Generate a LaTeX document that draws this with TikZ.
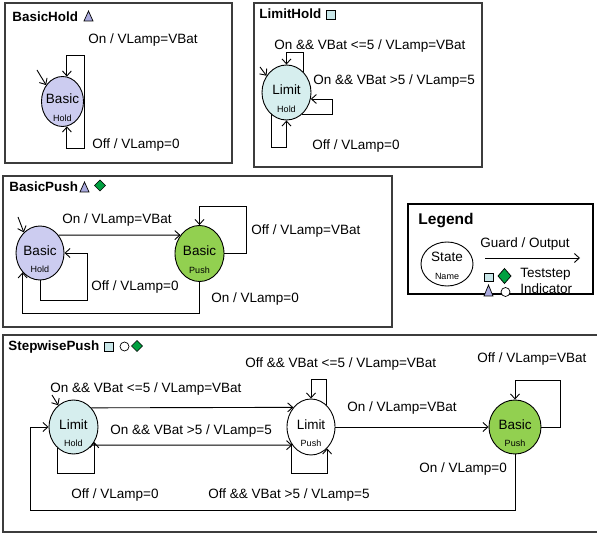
\documentclass[tikz,border=0pt]{standalone}
\usepackage{fontspec}
\setmainfont{Liberation Sans}
\usetikzlibrary{shapes.geometric,arrows.meta}

\definecolor{holdfill}{RGB}{204,204,240}
\definecolor{limitfill}{RGB}{214,238,238}
\definecolor{pushfill}{RGB}{146,208,80}
\definecolor{stepgreen}{RGB}{0,160,64}
\definecolor{trifill}{RGB}{170,170,222}
\definecolor{sqfill}{RGB}{200,230,232}
\definecolor{framegray}{RGB}{60,60,60}

\newcommand{\lab}{\fontsize{13.5}{16}\selectfont}
\newcommand{\subf}{\fontsize{9}{10}\selectfont}

\begin{document}
\begin{tikzpicture}[x=1pt, y=-1pt, line width=0.9pt,
	arr/.style={-{Straight Barb[length=5pt,width=9pt]}},
	frame/.style={draw=framegray, line width=1.2pt},
	state/.style 2 args={draw, ellipse, inner xsep=-10pt, inner ysep=0pt,
		minimum width=#1pt, minimum height=#2pt, font=\lab,
		text height=9.8pt, text depth=5.2pt},
	sub/.style={font=\subf, inner sep=0pt, yshift=-16.5pt},
	lbl/.style={anchor=base west, inner sep=0pt, font=\lab},
	title/.style={anchor=base west, inner sep=0pt, font=\bfseries\fontsize{13.4}{16}\selectfont},
	tri/.style={draw, fill=trifill, line width=0.7pt},
	sq/.style={draw, fill=sqfill, line width=0.7pt},
	dia/.style={draw, fill=stepgreen, line width=0.7pt},
	ind/.style={draw, fill=white, line width=0.7pt}]
	\path[use as bounding box, fill=white] (0,0) rectangle (597,534);

	% BasicHold
	\draw[frame] (5,3) rectangle (232,163);
	\node[title] (t1) at (12,22) {BasicHold};
	\filldraw[tri] (84,21) -- (88.5,11) -- (93,21) -- cycle;
	\node[state={42}{50}, fill=holdfill, label={[sub]center:Hold}] (bh) at (62.5,101.5) {Basic};
	\coordinate (bh0) at (37,70);
	\draw[arr] (bh0) -- (bh.135);
	\draw[arr] (bh.east) -- ++(0,-46) -| (bh.80);
	\draw[arr] (bh.east) -- ++(0,46.5) -| (bh.-80);
	\node[lbl] (bh1) at (88,44) {On / VLamp=VBat};
	\node[lbl] (bh2) at (92,149) {Off / VLamp=0};

	% LimitHold
	\draw[frame] (254,3) rectangle (482,167);
	\node[title] (t2) at (259,19) {LimitHold};
	\filldraw[sq] (326,10) rectangle (335,19);
	\node[state={49}{55}, fill=limitfill, label={[sub]center:Hold}] (lh) at (286.5,92.5) {Limit};
	\coordinate (lh0) at (260,67);
	\draw[arr] (lh0) -- (lh.140);
	\draw[arr] (lh.51) -- ++(0,-19) -| (lh.north);
	\draw[arr] (lh.-55) -- ++(31,0) |- (lh.-15);
	\draw[arr] (lh.235) -- ++(0,33) -| (lh.south);
	\node[lbl] (lh1) at (274,50) {On \&\& VBat <=5 / VLamp=VBat};
	\node[lbl] (lh2) at (313,85) {On \&\& VBat >5 / VLamp=5};
	\node[lbl] (lh3) at (312,150) {Off / VLamp=0};

	% BasicPush
	\draw[frame] (3,176) rectangle (392,327);
	\node[title] (t3) at (9,192) {BasicPush};
	\filldraw[tri] (80,192) -- (84.5,182) -- (89,192) -- cycle;
	\filldraw[dia] (94.5,185.5) -- (100,180) -- (105.5,185.5) -- (100,191) -- cycle;
	\node[state={48}{54}, fill=holdfill, label={[sub]center:Hold}] (bhp) at (40,253) {Basic};
	\node[state={49}{56}, fill=pushfill, label={[sub]center:Push}] (bp) at (199.5,253.5) {Basic};
	\coordinate (bhp0) at (18,217);
	\draw[arr] (bhp0) -- (bhp.128);
	\draw[arr] (bhp.44) -- (bp.136);
	\draw[arr] (bp.east) -- ++(22,0) -- ++(0,-47.5) -| (bp.north);
	\draw[arr] (bhp.south) -- ++(0,20) -- ++(47,0) |- (bhp.east);
	\draw[arr] (bp.south) -- ++(0,31.5) -| (bhp.228);
	\node[lbl] (bp1) at (62,224) {On / VLamp=VBat};
	\node[lbl] (bp2) at (251,235) {Off / VLamp=VBat};
	\node[lbl] (bp3) at (91,291) {Off / VLamp=0};
	\node[lbl] (bp4) at (211,303) {On / VLamp=0};

	% Legend
	\draw[line width=2.3pt] (408,204) rectangle (593,294);
	\node[anchor=base west, inner sep=0pt, font=\bfseries\fontsize{15.5}{18}\selectfont] (lg) at (418,224.5) {Legend};
	\node[state={52}{44}, text depth=14.2pt, label={[sub, yshift=4.5pt]center:Name}] (ls) at (447,264) {State};
	\coordinate (la0) at (485,258);
	\coordinate (la1) at (580,258);
	\draw[arr] (la0) -- (la1);
	\node[lbl] (lg1) at (480,248) {Guard / Output};
	\filldraw[sq] (484,273) rectangle (493,281);
	\filldraw[dia] (498,276) -- (504.5,268.5) -- (511,276) -- (504.5,283.5) -- cycle;
	\node[lbl] (lg2) at (520,278) {Teststep};
	\filldraw[tri] (484,296) -- (488.5,285) -- (493,296) -- cycle;
	\filldraw[ind] (505.5,292) circle [radius=4.5pt];
	\node[lbl] (lg3) at (520,294) {Indicator};

	% StepwisePush
	\draw[frame] (3,335) rectangle (599,532);
	\node[title] (t4) at (8,351) {StepwisePush};
	\filldraw[sq] (104,342) rectangle (113,351);
	\filldraw[ind] (124.5,346.5) circle [radius=4.5pt];
	\filldraw[dia] (131.5,346) -- (137,340.5) -- (142.5,346) -- (137,351.5) -- cycle;
	\node[state={49}{54}, fill=limitfill, label={[sub]center:Hold}] (sl) at (73.5,427) {Limit};
	\node[state={48}{56}, fill=white, label={[sub]center:Push}] (sp) at (311,427) {Limit};
	\node[state={52}{54}, fill=pushfill, label={[sub]center:Push}] (sb) at (515,427) {Basic};
	\coordinate (sl0) at (52,395);
	\draw[arr] (sl0) -- (sl.125);
	\draw[arr] (sl.47.5) -- (sp.132.8);
	\draw[arr] (sl.-44.5) -- (sp.224.4);
	\draw[arr] (sl.234) -- ++(0,25) -| (sl.-36);
	\draw[arr] (sp.56) -- ++(0,-25) -| (sp.north);
	\draw[arr] (sp.222) -- ++(0,29) -| (sp.-53);
	\draw[arr] (sp.east) -- (sb.west);
	\draw[arr] (sb.east) -- ++(19,0) -- ++(0,-47) -| (sb.north);
	\draw[arr] (sb.south) -- ++(0,56) -- ++(-485,0) |- (sl.west);
	\node[lbl] (sw1) at (50,392) {On \&\& VBat <=5 / VLamp=VBat};
	\node[lbl] (sw2) at (110,434) {On \&\& VBat >5 / VLamp=5};
	\node[lbl] (sw3) at (71,498) {Off / VLamp=0};
	\node[lbl] (sw4) at (245,368) {Off \&\& VBat <=5 / VLamp=VBat};
	\node[lbl] (sw5) at (208,498) {Off \&\& VBat >5 / VLamp=5};
	\node[lbl] (sw6) at (347,412) {On / VLamp=VBat};
	\node[lbl] (sw7) at (477,363) {Off / VLamp=VBat};
	\node[lbl] (sw8) at (419,472) {On / VLamp=0};
\end{tikzpicture}
\end{document}
